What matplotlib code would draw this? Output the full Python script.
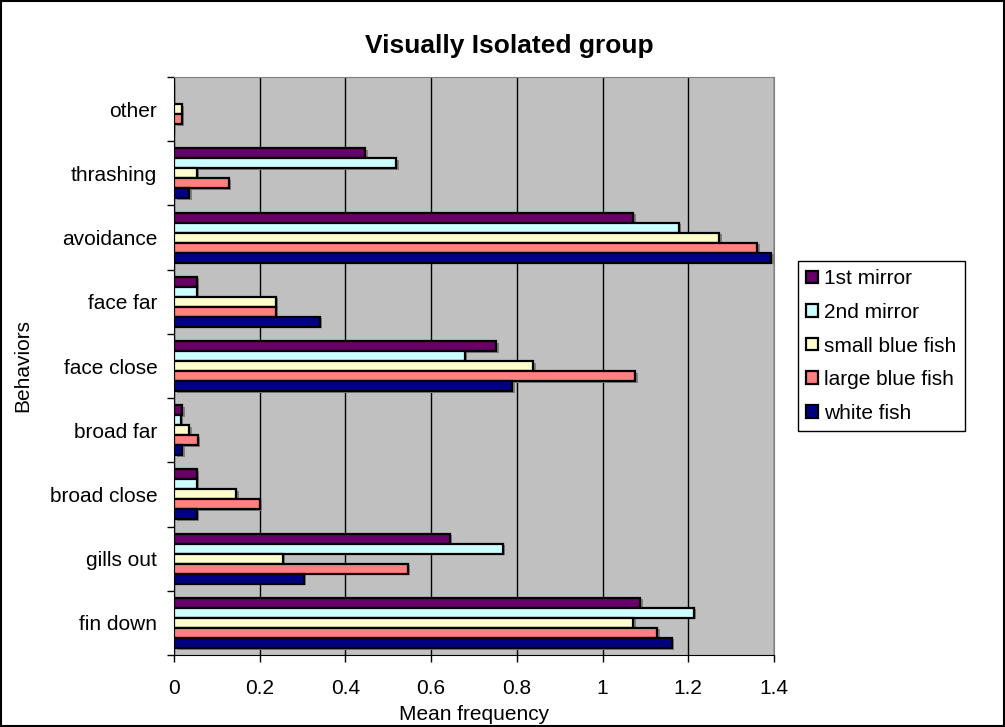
import numpy as np
import matplotlib
matplotlib.use('Agg')
from matplotlib import pyplot as plt
from matplotlib.patches import Rectangle

plt.rcParams['font.family'] = ['Liberation Sans', 'DejaVu Sans']

behaviors = ['fin down', 'gills out', 'broad close', 'broad far', 'face close',
             'face far', 'avoidance', 'thrashing', 'other']
series = ['1st mirror', '2nd mirror', 'small blue fish', 'large blue fish', 'white fish']
colors = ['#660066', '#CCFFFF', '#FFFFCC', '#FF8080', '#000080']

first_mirror = [1.088, 0.643, 0.053, 0.019, 0.752, 0.053, 1.072, 0.446, 0.0]
second_mirror = [1.213, 0.767, 0.053, 0.016, 0.678, 0.053, 1.178, 0.518, 0.0]
small_blue = [1.072, 0.254, 0.145, 0.036, 0.838, 0.237, 1.272, 0.053, 0.018]
large_blue = [1.127, 0.545, 0.200, 0.055, 1.076, 0.237, 1.361, 0.128, 0.018]
white_fish = [1.161, 0.303, 0.053, 0.019, 0.789, 0.340, 1.394, 0.036, 0.0]
values = [first_mirror, second_mirror, small_blue, large_blue, white_fish]

xticks = [0, 0.2, 0.4, 0.6, 0.8, 1, 1.2, 1.4]

fig = plt.figure(figsize=(10.05, 7.27), dpi=100)
ax = fig.add_axes([174/1005, 1-655/727, 600/1005, 578/727])
ax.set_facecolor('#C0C0C0')

y = np.arange(len(behaviors))
h = 10/64.2
for i, (name, vals, c) in enumerate(zip(series, values, colors)):
    off = (2 - i) * h
    # drop shadow behind each bar
    ax.barh(y + off - 0.025, vals, height=h, left=0.006, color='#808080',
            linewidth=0, zorder=2)
    ax.barh(y + off, vals, height=h, color=c, edgecolor='black',
            linewidth=1.6, label=name, zorder=3)

ax.set_xlim(0, 1.4)
ax.set_ylim(-0.5, len(behaviors) - 0.5)
ax.set_xticks(xticks)
ax.set_xticklabels(['0', '0.2', '0.4', '0.6', '0.8', '1', '1.2', '1.4'], fontsize=15)
ax.set_yticks(np.arange(len(behaviors) + 1) - 0.5, minor=False)
ax.set_yticklabels([])
ax.set_yticks(y, minor=True)
ax.set_yticklabels(behaviors, minor=True, fontsize=15)
ax.tick_params(axis='y', which='minor', length=0, pad=12)
ax.tick_params(axis='y', which='major', length=5, width=1)
ax.tick_params(axis='x', length=5, width=1, pad=12)
ax.grid(axis='x', color='black', linewidth=1, zorder=1)
ax.set_axisbelow(True)

for side in ['top', 'right']:
    ax.spines[side].set_color('#808080')
ax.spines['left'].set_color('black')
ax.spines['bottom'].set_color('black')

ax.set_xlabel('Mean frequency', fontsize=15)
ax.xaxis.set_label_coords(0.5, -(715-655)/578, transform=ax.transAxes)
ax.xaxis.label.set_va('center')
ax.set_ylabel('Behaviors', fontsize=15)
ax.yaxis.set_label_coords((23-174)/600, 0.5, transform=ax.transAxes)
ax.yaxis.label.set_va('center')

# chart title is centred on the whole chart, not on the plot area
fig.text(509/1005, 1-46/727, 'Visually Isolated group', fontsize=19,
         fontweight='bold', ha='center', va='center')

leg = ax.legend(loc='upper left', bbox_to_anchor=(798/1005, 1-261/727),
                bbox_transform=fig.transFigure, fontsize=15, frameon=True,
                fancybox=False, edgecolor='black', framealpha=1,
                handlelength=0.55, handleheight=0.55, handletextpad=0.3,
                labelspacing=0.7, borderpad=0.4, borderaxespad=0)
leg.get_frame().set_linewidth(1)

fig.patches.append(Rectangle((0.001, 0.001), 0.998, 0.998, transform=fig.transFigure,
                             fill=False, edgecolor='black', linewidth=1.5))

fig.savefig('out.png', dpi=100)
